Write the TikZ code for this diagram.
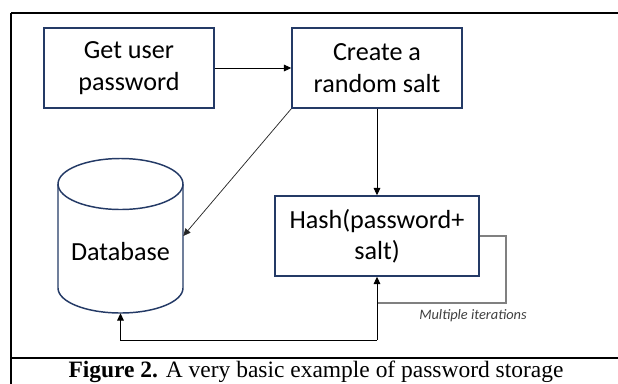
\documentclass[tikz,border=0pt]{standalone}
\usepackage{fontspec}
\setmainfont{Liberation Serif}
\newfontfamily\boxfont{Carlito}
\usetikzlibrary{arrows.meta}
\definecolor{boxblue}{RGB}{36,58,102}
\definecolor{loopgray}{RGB}{128,128,128}
\definecolor{notegray}{RGB}{64,64,64}
\tikzset{
  stepbox/.style={draw=boxblue, line width=1.1pt, align=center, inner sep=0pt,
    font=\boxfont\fontsize{19.6}{23.6}\selectfont, minimum height=60pt},
  conn/.style={draw=black, line width=0.75pt, -{Triangle[length=5.5pt,width=5pt]}},
  thinconn/.style={draw=black!85, line width=0.55pt, -{Triangle[length=5.5pt,width=5pt]}},
  loopline/.style={draw=loopgray, line width=1.1pt},
  frame/.style={draw=black, line width=1.5pt},
}
\begin{document}
\begin{tikzpicture}[x=0.75pt, y=0.75pt]
  \useasboundingbox (0,0) rectangle (618,-383);

  % table frame
  \draw[frame] (11,-13) -- (11,-390);
  \draw[draw=black, line width=0.8pt] (11,-13) -- (625,-13);
  \draw[frame] (11,-13) -- (25,-13);
  \draw[frame] (543,-13) -- (625,-13);
  \draw[frame] (11,-358) -- (625,-358);

  % process boxes
  \node[stepbox, minimum width=127.5pt] (get) at (129,-68) {Get user\\password};
  \node[stepbox, minimum width=127.5pt] (salt) at (377,-68) {Create a\\random salt};
  \node[stepbox, minimum width=153pt] (hash) at (377,-236) {Hash(password+\\salt)};

  % database cylinder
  \node[minimum width=93.75pt, minimum height=115.5pt, inner sep=0pt] (db) at (120.5,-236) {};
  \node[font=\boxfont\fontsize{19.6}{23.6}\selectfont] (dblabel) at (120.5,-252) {Database};
  \draw[draw=boxblue, line width=1.1pt]
    (120.5,-184) ellipse [x radius=62.5, y radius=25.5];
  \draw[draw=boxblue, line width=1.1pt]
    (58,-184) -- (58,-288) arc[start angle=180, end angle=360, x radius=62.5, y radius=25] -- (183,-184);

  % connectors
  \draw[conn] (get.east) -- (salt.west);
  \draw[thinconn] (salt.south west) -- (db.east);
  \draw[conn] (salt.south) -- (hash.north);

  % iteration loop
  \coordinate (loopcorner) at (506,-303);
  \coordinate (loopbase) at (377,-303);
  \draw[loopline] (hash.east) -| (loopcorner) -- (loopbase);
  \node[font=\boxfont\itshape\fontsize{10.8}{13}\selectfont, text=notegray] (note) at (473,-316) {Multiple iterations};

  % result stored back
  \coordinate (botright) at (377,-340);
  \draw[conn] (botright) -- (hash.south);
  \draw[conn] (botright) -| (db.south);

  % caption
  \node[anchor=base, font=\fontsize{17.6}{20}\selectfont, inner sep=0pt] (caption) at (316,-377.5)
    {\textbf{Figure 2.} A very basic example of password storage};
\end{tikzpicture}
\end{document}
